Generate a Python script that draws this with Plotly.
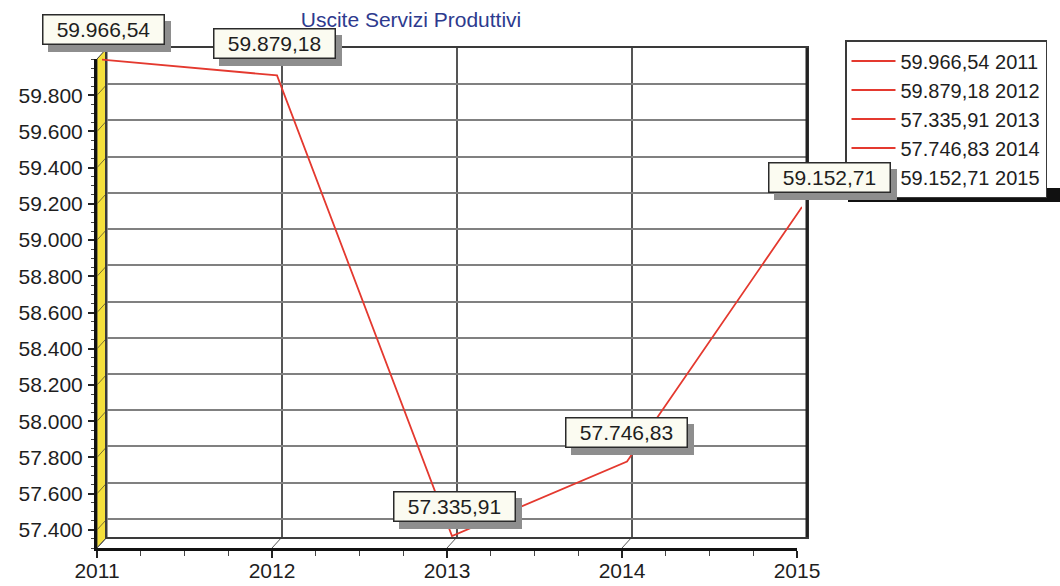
import plotly.graph_objects as go

# ---- data -------------------------------------------------------------
years = [2011, 2012, 2013, 2014, 2015]
values = [59966.54, 59879.18, 57335.91, 57746.83, 59152.71]
y_ticks = [57400, 57600, 57800, 58000, 58200, 58400, 58600, 58800,
           59000, 59200, 59400, 59600, 59800]
y_range = [57300, 60000]
title_text = "Uscite Servizi Produttivi"

# value-label offsets in px (dx, dy) relative to each point
label_offsets = [(1, 30), (-3, 32), (2, 30), (-1, 29), (27, 29)]


def it_num(v, dec=2):
    s = f"{v:,.{dec}f}"
    return s.replace(",", "X").replace(".", ",").replace("X", ".")


# ---- geometry of the pseudo-3D box -----------------------------------
W, H = 1060, 586
L, R, T, B = 97, 253, 48, 38
PW, PH = W - L - R, H - T - B
DX, DY = 10, 11           # depth of the box in px

front_x = [0, (PW - DX) / PW]
front_y = [0, (PH - DY) / PH]
back_x = [DX / PW, 1]
back_y = [DY / PH, 1]
mid_x = [DX / 2 / PW, (PW - DX / 2) / PW]
mid_y = [DY / 2 / PH, (PH - DY / 2) / PH]

RED = "#e4392f"
FONT = "Liberation Sans, Arial, sans-serif"
TXT = "#1e1e1e"

fig = go.Figure()

# invisible trace keeping the back-wall axes alive
fig.add_trace(go.Scatter(x=[years[0]], y=[values[0]], xaxis="x2", yaxis="y2",
                         mode="markers", marker=dict(opacity=0),
                         hoverinfo="skip", showlegend=False))

# legend entries, one per year
for yr, v in zip(years, values):
    fig.add_trace(go.Scatter(x=[yr], y=[v], xaxis="x", yaxis="y", mode="lines",
                             line=dict(color=RED, width=2),
                             name=f"{it_num(v)} {yr}", hoverinfo="skip"))

# the series itself, drawn in the middle of the box depth
fig.add_trace(go.Scatter(x=years, y=values, xaxis="x3", yaxis="y3",
                         mode="lines", line=dict(color=RED, width=1.8),
                         showlegend=False))

# ---- shapes -----------------------------------------------------------
shapes = []
# yellow side wall
shapes.append(dict(type="path", xref="paper", yref="paper", layer="below",
                   path=(f"M0,0 L0,{front_y[1]} L{back_x[0]},1 "
                         f"L{back_x[0]},{back_y[0]} Z"),
                   fillcolor="#f4df3c", line=dict(color="#3a3a3a", width=1)))
# depth lines on the side wall (one per y tick)
for v in y_ticks:
    shapes.append(dict(type="line", xref="x", yref="y", layer="below",
                       xsizemode="pixel", xanchor=years[0], x0=0, x1=DX,
                       ysizemode="pixel", yanchor=v, y0=0, y1=DY,
                       line=dict(color="#7a6f30", width=1)))
# depth lines on the floor (one per year)
for yr in years:
    shapes.append(dict(type="line", xref="x", yref="y", layer="below",
                       xsizemode="pixel", xanchor=yr, x0=0, x1=DX,
                       ysizemode="pixel", yanchor=y_range[0], y0=0, y1=DY,
                       line=dict(color="#555555", width=1)))
# dark right edge of the back wall
shapes.append(dict(type="line", xref="paper", yref="paper", layer="above",
                   x0=1, x1=1, y0=back_y[0], y1=1,
                   line=dict(color="#222222", width=3)))
# legend drop shadow (bottom bar)
shapes.append(dict(type="rect", xref="paper", yref="paper", layer="below",
                   x0=(848 - L) / PW, x1=(1090 - L) / PW,
                   y0=(H - B - 202) / PH, y1=(H - B - 188) / PH,
                   fillcolor="#111111", line=dict(width=0)))

# ---- value labels with drop shadow ------------------------------------
annotations = []
for (yr, v), (ox, oy) in zip(zip(years, values), label_offsets):
    common = dict(x=yr, y=v, xref="x3", yref="y3", text=it_num(v),
                  showarrow=False, width=118, height=26, borderpad=1,
                  borderwidth=1.5, font=dict(family=FONT, size=21))
    annotations.append(dict(common, xshift=ox + 6, yshift=oy - 7,
                            bgcolor="#8e8e8e", bordercolor="#8e8e8e",
                            font=dict(family=FONT, size=21,
                                      color="rgba(0,0,0,0)")))
    annotations.append(dict(common, xshift=ox, yshift=oy,
                            bgcolor="#fbfbf1", bordercolor="#2a2a2a",
                            font=dict(family=FONT, size=21, color=TXT)))

fig.update_layout(
    width=W, height=H,
    margin=dict(l=L, r=R, t=T, b=B, autoexpand=False),
    paper_bgcolor="white", plot_bgcolor="rgba(0,0,0,0)",
    separators=",.",
    font=dict(family=FONT, size=21, color=TXT),
    title=dict(text=title_text, x=411 / W, xanchor="center", xref="container",
               y=1 - 20 / H, yanchor="middle", yref="container",
               font=dict(family=FONT, size=21, color="#2d3a8e")),
    xaxis=dict(domain=front_x, anchor="y", range=[years[0], years[-1]],
               tickmode="array", tickvals=years, ticktext=[str(y) for y in years],
               ticks="outside", ticklen=7, tickwidth=1.5, tickcolor="#222",
               ticklabelstandoff=-5,
               minor=dict(dtick=0.25, tick0=years[0], ticks="outside",
                          ticklen=5, tickcolor="#444", tickwidth=1),
               showline=True, linecolor="#111", linewidth=3,
               showgrid=False, zeroline=False,
               tickfont=dict(family=FONT, size=21, color=TXT)),
    yaxis=dict(domain=front_y, anchor="x", range=y_range,
               tickmode="array", tickvals=y_ticks,
               ticktext=[it_num(v, 0) for v in y_ticks],
               ticks="outside", ticklen=6, tickwidth=1.5, tickcolor="#222",
               ticklabelstandoff=1,
               minor=dict(dtick=50, tick0=0, ticks="outside", ticklen=3,
                          tickcolor="#444", tickwidth=1),
               showline=True, linecolor="#111", linewidth=3,
               showgrid=False, zeroline=False,
               tickfont=dict(family=FONT, size=21, color=TXT)),
    xaxis2=dict(domain=back_x, anchor="y2", range=[years[0], years[-1]],
                tickmode="array", tickvals=years[1:-1], showticklabels=False,
                ticks="", showgrid=True, gridcolor="#555555", gridwidth=1.5,
                showline=True, mirror=True, linecolor="#3a3a3a", linewidth=1.5,
                zeroline=False),
    yaxis2=dict(domain=back_y, anchor="x2", range=y_range,
                tickmode="array", tickvals=y_ticks, showticklabels=False,
                ticks="", showgrid=True, gridcolor="#808080", gridwidth=1.5,
                showline=True, mirror=True, linecolor="#3a3a3a", linewidth=1.5,
                zeroline=False),
    xaxis3=dict(domain=mid_x, anchor="y3", range=[years[0], years[-1]],
                visible=False),
    yaxis3=dict(domain=mid_y, anchor="x3", range=y_range, visible=False),
    legend=dict(x=(845 - L) / PW, y=(H - B - 40) / PH,
                xanchor="left", yanchor="top",
                bgcolor="white", bordercolor="#3a3a3a", borderwidth=1.5,
                font=dict(family=FONT, size=20, color=TXT),
                itemwidth=44, traceorder="normal"),
    shapes=shapes,
    annotations=annotations,
)

fig.write_html("out.html")
